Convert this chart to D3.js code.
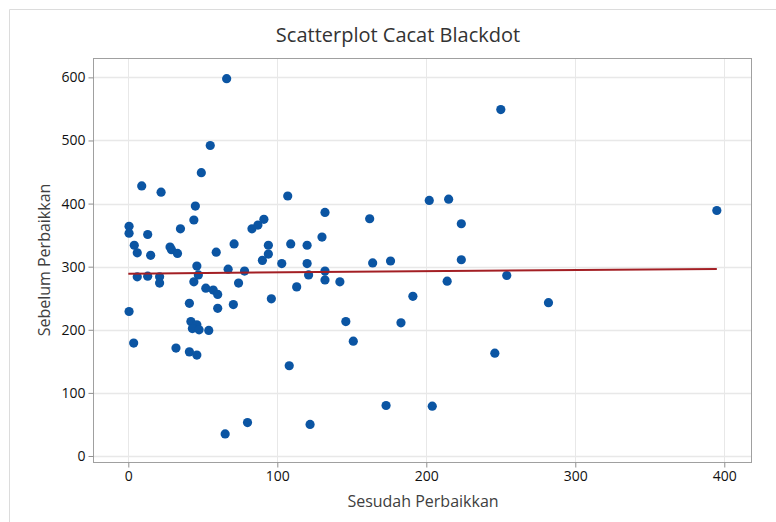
<!DOCTYPE html>
<html>
<head>
<meta charset="utf-8">
<script src="https://cdn.jsdelivr.net/npm/d3@7"></script>
<style>
  html, body { margin: 0; padding: 0; background: #fff; }
  svg { display: block; }
  text { font-family: "Open Sans", "Noto Sans", sans-serif; }
</style>
</head>
<body>
<svg id="chart" width="776" height="522"></svg>
<script>
// ---- data ----
const sesudah = [66, 55, 49, 9, 22, 45, 44, 0.5, 0.5, 13, 35, 83, 87, 91, 107, 4, 6, 15, 28, 29, 33, 59, 71, 94, 94, 90, 109, 103, 46, 47, 6, 13, 21, 21, 44, 67, 78, 74, 52, 57, 60, 41, 60, 70.5, 96, 0.5, 42, 46, 43, 47.5, 54, 3.6, 32, 41, 46, 108, 80, 65, 132, 162, 202, 215, 223.5, 120, 130, 120, 121, 132, 132, 142, 113, 164, 176, 223.5, 214, 191, 146, 183, 151, 173, 204, 122, 250, 395, 254, 282, 246];
const sebelum = [598, 492, 449, 428, 418, 396, 374, 364, 353, 351, 360, 360, 366, 375, 412, 334, 322, 318, 331, 327, 321, 323, 336, 334, 320, 310, 336, 305, 301, 287, 284, 285, 284, 274, 276, 296, 293, 274, 266, 263, 256, 242, 234, 240, 249, 229, 213, 208, 202, 200, 199, 179, 171, 165, 160, 143, 53, 35, 386, 376, 405, 407, 368, 334, 347, 305, 287, 293, 279, 276, 268, 306, 309, 311, 277, 253, 213, 211, 182, 80, 79, 50, 549, 389, 286, 243, 163];
const fitX = [0, 395];
const fitY = [289, 296.5];
const xTicks = [0, 100, 200, 300, 400];
const yTicks = [0, 100, 200, 300, 400, 500, 600];
const titleText = "Scatterplot Cacat Blackdot";
const xLabel = "Sesudah Perbaikkan";
const yLabel = "Sebelum Perbaikkan";

// ---- layout ----
const svg = d3.select("#chart");
const L = 93, R = 752, T = 58, B = 463;

const x = d3.scaleLinear().domain([-23.7, 418.6]).range([L, R]);
const y = d3.scaleLinear().domain([-11.1, 630.7]).range([B, T]);

// outer light frame
svg.append("line").attr("x1", 9.5).attr("y1", 9.5).attr("x2", 776).attr("y2", 9.5)
  .attr("stroke", "#dcdcdc").attr("stroke-width", 1);
svg.append("line").attr("x1", 9.5).attr("y1", 9.5).attr("x2", 9.5).attr("y2", 522)
  .attr("stroke", "#dcdcdc").attr("stroke-width", 1);

// gridlines
const grid = svg.append("g");
grid.selectAll("line.gx").data(xTicks).join("line")
  .attr("x1", d => Math.round(x(d)) + 0.5).attr("x2", d => Math.round(x(d)) + 0.5)
  .attr("y1", T).attr("y2", B)
  .attr("stroke", "#e8e8e8").attr("stroke-width", 1);
grid.selectAll("line.gy").data(yTicks).join("line")
  .attr("y1", d => Math.round(y(d)) + 0.5).attr("y2", d => Math.round(y(d)) + 0.5)
  .attr("x1", L).attr("x2", R)
  .attr("stroke", "#e8e8e8").attr("stroke-width", 1.3);

// frame
svg.append("rect").attr("x", L + 0.5).attr("y", T + 0.5)
  .attr("width", R - L - 1).attr("height", B - T - 1)
  .attr("fill", "none").attr("stroke", "#a0a0a0").attr("stroke-width", 1);

// axes
const xAxis = d3.axisBottom(x).tickValues(xTicks).tickSize(5).tickPadding(4).tickFormat(d3.format("d"));
const yAxis = d3.axisLeft(y).tickValues(yTicks).tickSize(5).tickPadding(3).tickFormat(d3.format("d"));

const gx = svg.append("g").attr("transform", `translate(0,${B - 0.5})`).call(xAxis);
const gy = svg.append("g").attr("transform", `translate(${L + 0.5},0)`).call(yAxis);
[gx, gy].forEach(g => {
  g.select(".domain").remove();
  g.selectAll(".tick line").attr("stroke", "#909090");
  g.selectAll(".tick text").attr("fill", "#111111").style("font-size", "14px")
    .style("font-weight", "500")
    .style("font-family", "'Open Sans', 'Noto Sans', sans-serif");
});

// points
svg.append("g").selectAll("circle").data(sesudah.map((d, i) => [d, sebelum[i]])).join("circle")
  .attr("cx", d => x(d[0])).attr("cy", d => y(d[1])).attr("r", 4.6)
  .attr("fill", "#0b55a3");

// fit line
svg.append("line")
  .attr("x1", x(fitX[0])).attr("y1", y(fitY[0]))
  .attr("x2", x(fitX[1])).attr("y2", y(fitY[1]))
  .attr("stroke", "#a31f24").attr("stroke-width", 2);

// titles
svg.append("text").attr("x", 398).attr("y", 42).attr("text-anchor", "middle")
  .style("font-size", "20px").style("font-weight", "500").attr("fill", "#333333").text(titleText);
svg.append("text").attr("x", 423).attr("y", 507).attr("text-anchor", "middle")
  .style("font-size", "16px").style("font-weight", "500").attr("fill", "#404040").text(xLabel);
svg.append("text").attr("transform", "translate(50,260) rotate(-90)").attr("text-anchor", "middle")
  .style("font-size", "16px").style("font-weight", "500").attr("fill", "#404040").text(yLabel);
</script>
</body>
</html>
